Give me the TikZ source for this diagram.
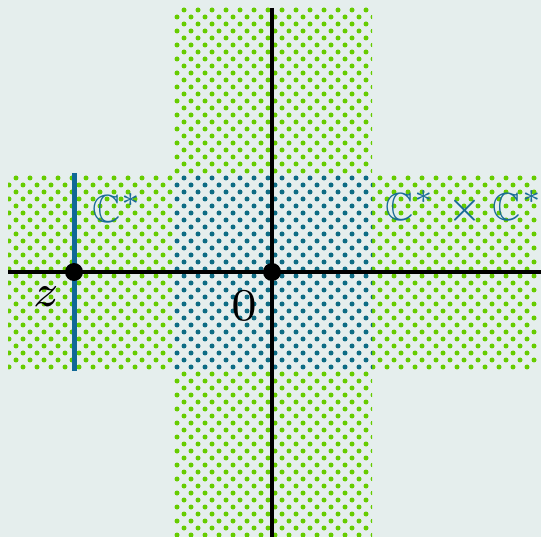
\documentclass[tikz,border=0pt]{standalone}
\usepackage{amssymb}
\usepackage{graphicx}
\definecolor{bgc}{RGB}{229,238,237}
\definecolor{greendot}{RGB}{102,204,0}
\definecolor{tealdot}{RGB}{14,108,132}
\definecolor{tealtxt}{RGB}{26,108,150}
\definecolor{blueline}{RGB}{16,104,150}
\tikzset{
  pt/.style={circle,fill=black,inner sep=0pt,minimum size=18pt},
  lab/.style={inner sep=0pt},
  clab/.style={inner sep=0pt,text=tealtxt},
  axis/.style={line width=3.4pt,black},
}
\begin{document}
\begin{tikzpicture}[x=1pt,y=-1pt]
\fill[bgc] (0,0) rectangle (541,537);
\useasboundingbox (0,0) rectangle (541,537);
% vertical strip
\begin{scope}
\clip (174,8) rectangle (372,537);
\foreach \j in {0,...,76}{
  \foreach \i in {12,...,26}{
    \fill[greendot] ({2+14*\i+7*mod(\j,2)},{10+7*\j}) circle (2.5);
  }
}
\end{scope}
% horizontal strip
\begin{scope}
\clip (8,175) rectangle (538,370);
\foreach \j in {22,...,52}{
  \foreach \i in {0,...,39}{
    \fill[greendot] ({2+14*\i+7*mod(\j,2)},{10+7*\j}) circle (2.5);
  }
}
\end{scope}
% overlap
\begin{scope}
\clip (174,175) rectangle (372,370);
\fill[bgc] (174,175) rectangle (372,370);
\foreach \j in {22,...,52}{
  \foreach \i in {12,...,26}{
    \fill[tealdot] ({2+14*\i+7*mod(\j,2)},{10+7*\j}) circle (2.5);
  }
}
\end{scope}
% axes
\coordinate (hl) at (8,272);
\coordinate (hr) at (541,272);
\coordinate (vt) at (272,8);
\coordinate (vb) at (272,537);
\coordinate (bt) at (74,173);
\coordinate (bb) at (74,371);
\draw[axis] (hl) -- (hr);
\draw[axis] (vt) -- (vb);
\draw[line width=5pt,blueline] (bt) -- (bb);
\node[pt] (z) at (74,272) {};
\node[pt] (o) at (272,272) {};
\node[clab] (c1) at (118,208) {\scalebox{5.6}{\scriptsize$\mathbb{C}^*$}};
\node[clab] (c2) at (465,208) {\scalebox{5.6}{\scriptsize$\mathbb{C}^*\times\mathbb{C}^*$}};
\node[lab] (zl) at (46,297) {\scalebox{6.5}{\scriptsize$z$}};
\node[lab] (ol) at (244,306) {\scalebox{6.5}{\scriptsize$0$}};
\end{tikzpicture}
\end{document}
